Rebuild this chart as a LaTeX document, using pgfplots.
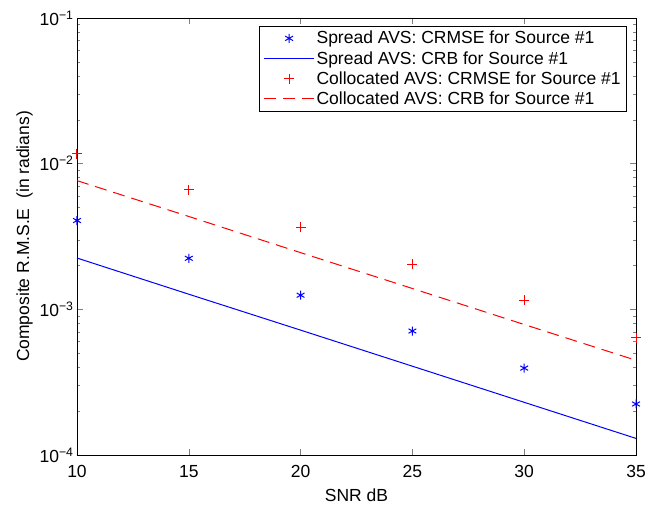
\documentclass[border=0pt]{standalone}
\usepackage{fontspec}
\setmainfont{Liberation Sans}
\usepackage{pgfplots}
\pgfplotsset{compat=1.18}
\definecolor{mblue}{rgb}{0,0,1}
\definecolor{mred}{rgb}{1,0,0}

\begin{document}
\begin{tikzpicture}[font=\fontsize{17.5bp}{20bp}\selectfont]
\begin{axis}[
  name=ax,
  scale only axis,
  width=559bp, height=437bp,
  xmin=10, xmax=35,
  ymode=log, ymin=1e-4, ymax=1e-1,
  xtick={10,15,20,25,30,35},
  ytick={1e-4,1e-3,1e-2,1e-1},
  yticklabels={10\textsuperscript{−4},10\textsuperscript{−3},10\textsuperscript{−2},10\textsuperscript{−1}},
  /pgf/number format/assume math mode=true,
  ticklabel style={font=\fontsize{17.5bp}{20bp}\selectfont},
  xticklabel style={yshift=-7bp},
  tick align=inside,
  major tick length=6bp, minor tick length=3.5bp,
  tick style={line width=0.6bp},
  xlabel={SNR dB},
  xlabel style={yshift=-4bp},
  ylabel={Composite R.M.S.E\ \ (in radians)},
  label style={font=\fontsize{17.5bp}{20bp}\selectfont},
  axis line style={line width=0.6bp},
  legend style={at={(1,1)}, anchor=north east, xshift=-9bp, yshift=-8bp,
    font=\fontsize{17.5bp}{20bp}\selectfont, line width=0.6bp,
    cells={anchor=west}, inner xsep=4bp, inner ysep=3bp, row sep=2bp},
  legend image code/.code={\draw[mark repeat=2,mark phase=2,#1] plot coordinates {(0bp,0bp) (25bp,0bp) (50bp,0bp)};},
]
\addplot[only marks, color=mblue, mark=asterisk, mark size=4.5bp, line width=1bp] coordinates {
  (10,4.07e-3) (15,2.24e-3) (20,1.25e-3) (25,7.1e-4) (30,3.95e-4) (35,2.24e-4)
};
\addplot[color=mblue, line width=1bp] coordinates {
  (10,2.25e-3) (15,1.27e-3) (20,7.2e-4) (25,4.07e-4) (30,2.3e-4) (35,1.3e-4)
};
\addplot[only marks, color=mred, mark=+, mark size=5bp, line width=1bp] coordinates {
  (10,1.17e-2) (15,6.6e-3) (20,3.65e-3) (25,2.04e-3) (30,1.15e-3) (35,6.4e-4)
};
\addplot[color=mred, line width=1bp, dash pattern=on 12bp off 7bp] coordinates {
  (10,7.65e-3) (15,4.34e-3) (20,2.45e-3) (25,1.39e-3) (30,7.87e-4) (35,4.47e-4)
};
\legend{Spread AVS: CRMSE for Source \#1, Spread AVS: CRB for Source \#1, Collocated AVS: CRMSE for Source \#1, Collocated AVS: CRB for Source \#1}
\end{axis}
\pgfresetboundingbox
\path[use as bounding box] ([shift={(-77bp,-51bp)}]ax.south west) rectangle ([shift={(21bp,18bp)}]ax.north east);
\end{tikzpicture}
\end{document}
